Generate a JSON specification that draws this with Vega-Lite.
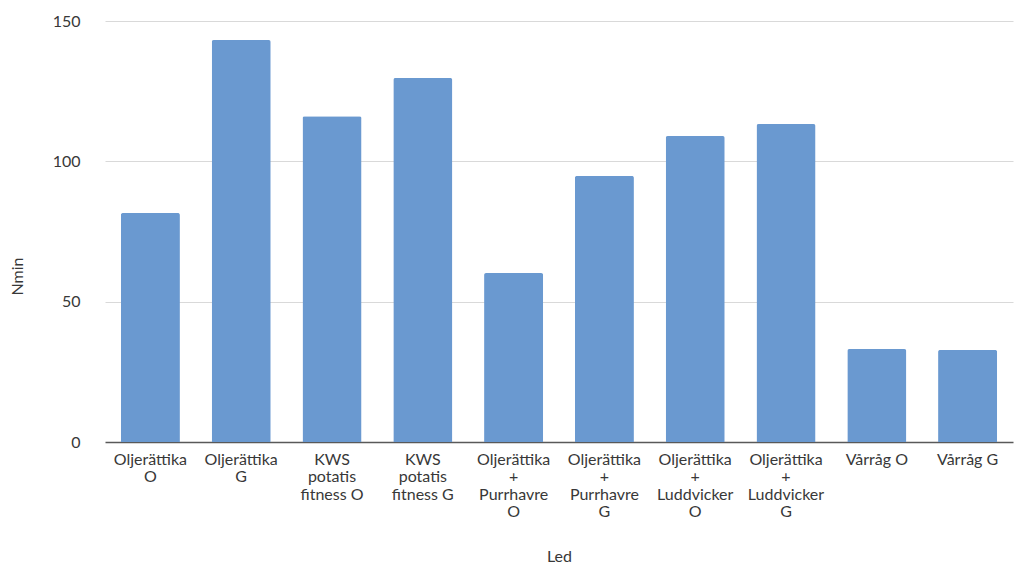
{
  "$schema": "https://vega.github.io/schema/vega-lite/v6.json",
  "width": 923,
  "height": 421,
  "autosize": {"type": "none"},
  "padding": {"left": 90, "top": 21, "right": 2, "bottom": 123},
  "background": "white",
  "config": {
    "view": {"stroke": null},
    "font": "Lato",
    "axis": {"labelColor": "#383838", "titleColor": "#383838", "titleFontWeight": "normal"}
  },
  "data": {
    "values": [
      {"led": "Oljerättika\nO", "nmin": 81.6},
      {"led": "Oljerättika\nG", "nmin": 143.2},
      {"led": "KWS\npotatis\nfitness O", "nmin": 116.1},
      {"led": "KWS\npotatis\nfitness G", "nmin": 129.7},
      {"led": "Oljerättika\n+\nPurrhavre\nO", "nmin": 60.2},
      {"led": "Oljerättika\n+\nPurrhavre\nG", "nmin": 94.8},
      {"led": "Oljerättika\n+\nLuddvicker\nO", "nmin": 109.0},
      {"led": "Oljerättika\n+\nLuddvicker\nG", "nmin": 113.3},
      {"led": "Vårråg O", "nmin": 33.1},
      {"led": "Vårråg G", "nmin": 32.8}
    ]
  },
  "mark": {"type": "bar", "color": "#6a99d0", "cornerRadiusTopLeft": 2, "cornerRadiusTopRight": 2},
  "encoding": {
    "x": {
      "field": "led",
      "type": "nominal",
      "sort": null,
      "scale": {"range": [15, 923], "paddingInner": 0.35, "paddingOuter": 0.175},
      "axis": {
        "title": "Led",
        "titleFontSize": 16,
        "titleY": 114,
        "titleBaseline": "middle",
        "labelAngle": 0,
        "labelFontSize": 16,
        "labelLineHeight": 17.5,
        "labelPadding": 9,
        "labelBaseline": "top",
        "labelExpr": "split(datum.label, '\\n')",
        "ticks": false,
        "domain": false
      }
    },
    "y": {
      "field": "nmin",
      "type": "quantitative",
      "scale": {"domain": [0, 150]},
      "axis": {
        "title": "Nmin",
        "titleFontSize": 16,
        "titleX": -73,
        "titleY": 255,
        "titleAngle": -90,
        "titleAlign": "center",
        "titleBaseline": "middle",
        "values": [0, 50, 100, 150],
        "labelFontSize": 16,
        "labelPadding": 10,
        "ticks": false,
        "domain": false,
        "gridColor": {"condition": {"test": "datum.value === 0", "value": "#595959"}, "value": "#d9d9d9"},
        "gridWidth": {"condition": {"test": "datum.value === 0", "value": 1.5}, "value": 1}
      }
    }
  }
}
